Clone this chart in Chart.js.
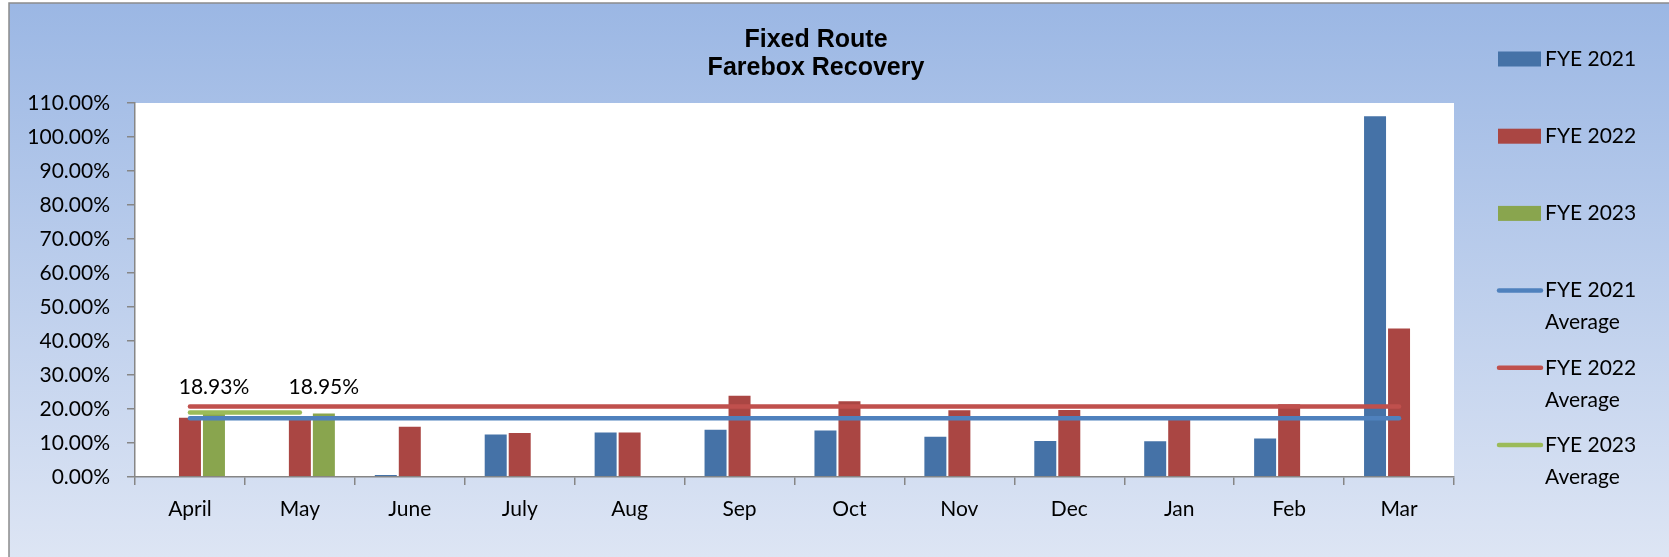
<!DOCTYPE html>
<html>
<head>
<meta charset="utf-8">
<script src="https://cdn.jsdelivr.net/npm/chart.js@4.4.0/dist/chart.umd.min.js"></script>
<style>
  html, body { margin: 0; padding: 0; background: #fff; }
</style>
</head>
<body>
<canvas id="FareboxChart" width="1669" height="557"></canvas>
<script>
// monthly farebox recovery, in percent
const months = ['April', 'May', 'June', 'July', 'Aug', 'Sep', 'Oct', 'Nov', 'Dec', 'Jan', 'Feb', 'Mar'];
const fye2021 = [null, null, 0.9, 12.8, 13.4, 14.2, 14.0, 12.1, 10.9, 10.8, 11.6, 106.4];
const fye2022 = [17.7, 17.6, 15.1, 13.2, 13.4, 24.2, 22.6, 19.9, 20.0, 18.2, 21.7, 44.0];
const fye2023 = [18.93, 18.95, null, null, null, null, null, null, null, null, null, null];
const avg2021 = [17.3, 17.3, 17.3, 17.3, 17.3, 17.3, 17.3, 17.3, 17.3, 17.3, 17.3, 17.3];
const avg2022 = [20.7, 20.7, 20.7, 20.7, 20.7, 20.7, 20.7, 20.7, 20.7, 20.7, 20.7, 20.7];
const avg2023 = [18.94, 18.94, null, null, null, null, null, null, null, null, null, null];
const yMax = 110;
const yStep = 10;

const labelFont = { family: 'Lato', size: 21 };
const axisGrey = '#868686';

const fmtPct = v => v.toFixed(2) + '%';

// page background, plot background, title, legend, labels on FYE 2023 bars
const excelLook = {
  id: 'excelLook',
  beforeDraw(chart) {
    const c = chart.ctx, a = chart.chartArea;
    c.save();
    c.fillStyle = '#fff';
    c.fillRect(0, 0, chart.width, chart.height);
    const g = c.createLinearGradient(0, 3, 0, chart.height);
    g.addColorStop(0, 'rgb(155,183,228)');
    g.addColorStop(1, 'rgb(221,229,244)');
    c.fillStyle = g;
    c.fillRect(9, 3, chart.width - 9, chart.height - 3);
    c.strokeStyle = '#8c8c8c';
    c.lineWidth = 1.5;
    c.beginPath();
    c.moveTo(9, chart.height);
    c.lineTo(9, 3);
    c.lineTo(chart.width, 3);
    c.stroke();
    c.fillStyle = '#fff';
    c.fillRect(a.left, a.top, a.right - a.left, a.bottom - a.top);
    c.restore();
  },
  afterDatasetsDraw(chart) {
    const c = chart.ctx;
    const meta = chart.getDatasetMeta(2);
    c.save();
    c.font = '21px Lato';
    c.fillStyle = '#000';
    c.textAlign = 'center';
    c.textBaseline = 'middle';
    meta.data.forEach((bar, i) => {
      const v = fye2023[i];
      if (v == null) return;
      c.fillText(fmtPct(v), bar.x, bar.y - 25);
    });
    c.restore();
  },
  afterDraw(chart) {
    const c = chart.ctx;
    c.save();
    c.fillStyle = '#000';
    c.textAlign = 'center';
    c.textBaseline = 'middle';
    c.font = 'bold 25px "Liberation Sans"';
    c.fillText('Fixed Route', 816, 40);
    c.fillText('Farebox Recovery', 816, 68);

    c.font = '21px Lato';
    c.textAlign = 'left';
    chart.data.datasets.forEach((ds, i) => {
      const y = 59 + i * 77.2;
      if (ds.type === 'line') {
        c.strokeStyle = ds.borderColor;
        c.lineWidth = 4.5;
        c.lineCap = 'round';
        c.beginPath();
        c.moveTo(1499, y);
        c.lineTo(1541, y);
        c.stroke();
      } else {
        c.fillStyle = ds.backgroundColor;
        c.fillRect(1498, y - 7.5, 43, 15);
      }
      c.fillStyle = '#000';
      const words = ds.label.split(' ');
      if (words.length > 2) {
        c.fillText(words.slice(0, 2).join(' '), 1545, y);
        c.fillText(words.slice(2).join(' '), 1545, y + 32);
      } else {
        c.fillText(ds.label, 1545, y);
      }
    });
    c.restore();
  }
};

const ctx = document.getElementById('FareboxChart');
new Chart(ctx, {
  type: 'bar',
  data: {
    labels: months,
    datasets: [{
      label: 'FYE 2021',
      data: fye2021,
      backgroundColor: '#4572A7',
      borderColor: 'rgba(255,255,255,0.55)',
      borderWidth: 1,
      order: 2
    }, {
      label: 'FYE 2022',
      data: fye2022,
      backgroundColor: '#AA4643',
      borderColor: 'rgba(255,255,255,0.55)',
      borderWidth: 1,
      order: 2
    }, {
      label: 'FYE 2023',
      data: fye2023,
      backgroundColor: '#89A54E',
      borderColor: 'rgba(255,255,255,0.55)',
      borderWidth: 1,
      order: 2
    }, {
      type: 'line',
      label: 'FYE 2021 Average',
      data: avg2021,
      borderColor: '#4F81BD',
      borderWidth: 4.5,
      borderCapStyle: 'round',
      pointRadius: 0,
      order: 1
    }, {
      type: 'line',
      label: 'FYE 2022 Average',
      data: avg2022,
      borderColor: '#C0504D',
      borderWidth: 4.5,
      borderCapStyle: 'round',
      pointRadius: 0,
      order: 1
    }, {
      type: 'line',
      label: 'FYE 2023 Average',
      data: avg2023,
      borderColor: '#9BBB59',
      borderWidth: 4.5,
      borderCapStyle: 'round',
      pointRadius: 0,
      order: 1
    }]
  },
  plugins: [excelLook],
  options: {
    responsive: false,
    animation: false,
    devicePixelRatio: 1,
    datasets: {
      bar: { categoryPercentage: 0.655, barPercentage: 1 }
    },
    layout: { padding: { top: 103, right: 215, left: 0, bottom: 0 } },
    plugins: {
      legend: { display: false },
      title: { display: false },
      tooltip: { enabled: false }
    },
    scales: {
      x: {
        grid: { offset: true, drawOnChartArea: false, tickLength: 8, color: axisGrey, lineWidth: 1.5 },
        border: { color: axisGrey, width: 1.5 },
        ticks: { font: labelFont, color: '#000', padding: 12, maxRotation: 0, autoSkip: false },
        afterFit(scale) { scale.height = 80; }
      },
      y: {
        min: 0,
        max: yMax,
        grid: { drawOnChartArea: false, tickLength: 8, color: axisGrey, lineWidth: 1.5 },
        border: { color: axisGrey, width: 1.5 },
        ticks: { stepSize: yStep, font: labelFont, color: '#000', padding: 17, callback: v => fmtPct(v) },
        afterFit(scale) { scale.width = 135; }
      }
    }
  }
});
</script>
</body>
</html>
